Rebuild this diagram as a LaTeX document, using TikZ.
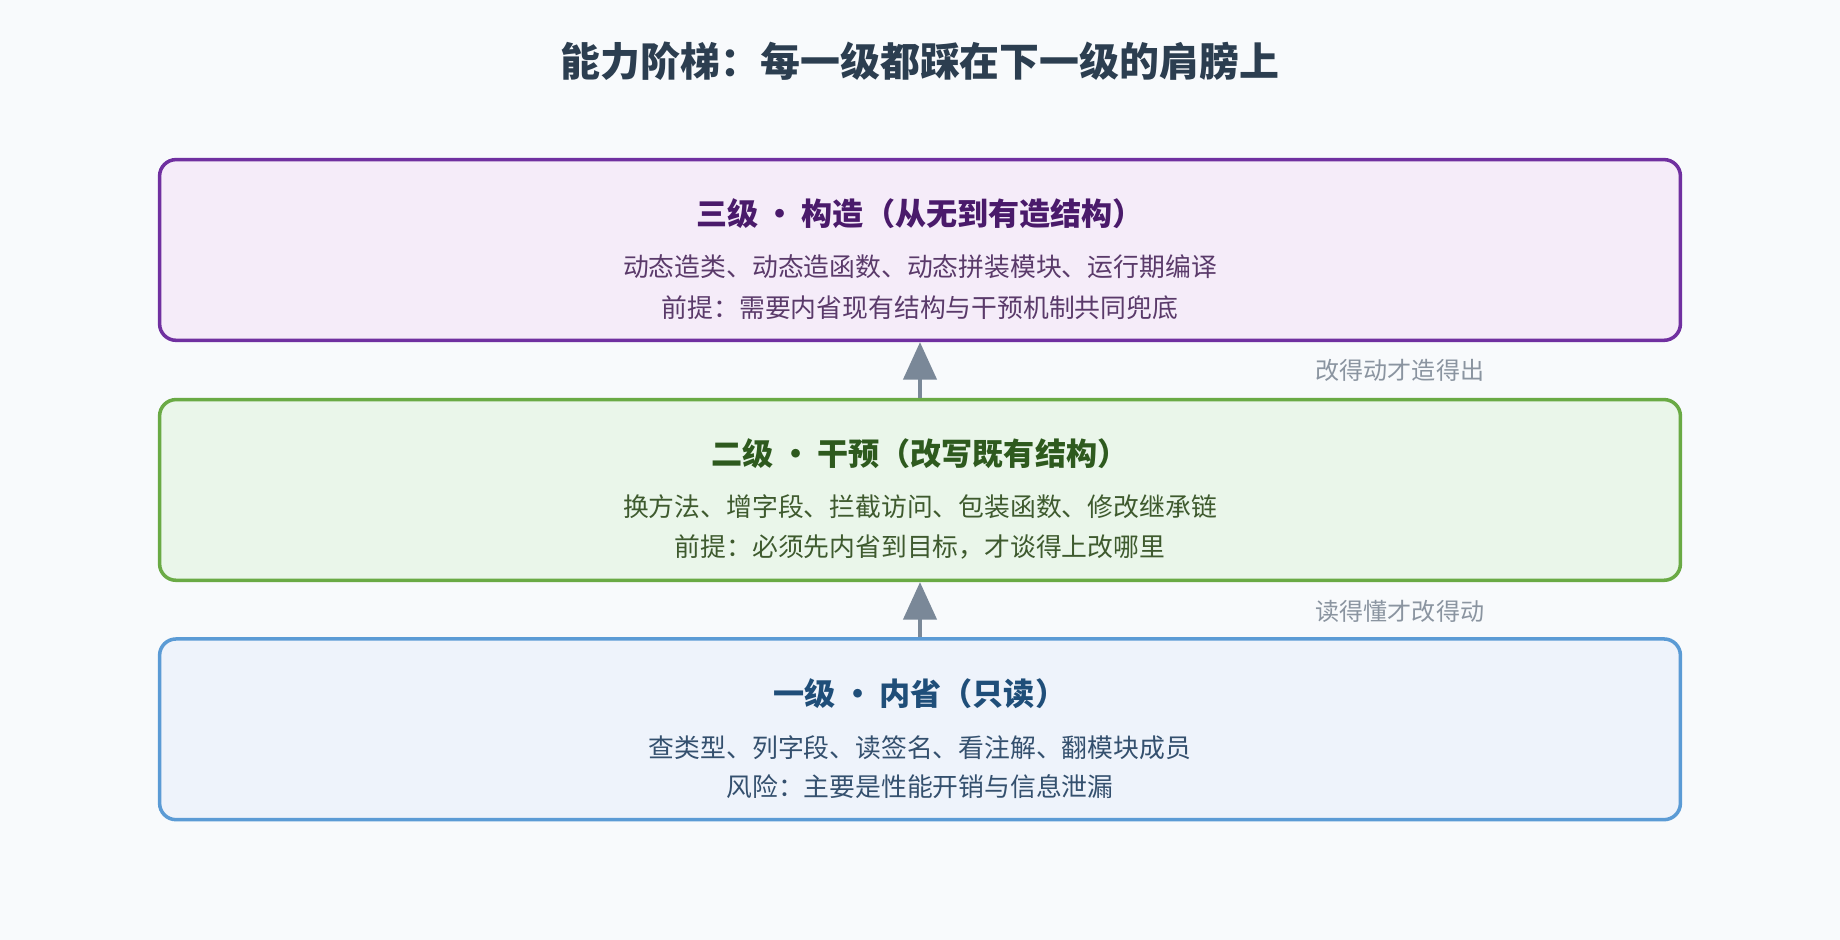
\documentclass[tikz,border=0pt]{standalone}
\usepackage{fontspec}
\setmainfont{Noto Sans CJK SC}
\usetikzlibrary{arrows.meta}
\definecolor{bg}{HTML}{F8FAFC}
\definecolor{pf}{HTML}{F5ECF9}\definecolor{ps}{HTML}{7030A0}\definecolor{pt}{HTML}{4A1A6B}\definecolor{pb}{HTML}{5A3A6A}
\definecolor{gf}{HTML}{EAF6EA}\definecolor{gs}{HTML}{6AAA45}\definecolor{gt}{HTML}{2E5A1E}\definecolor{gb}{HTML}{3E5A2E}
\definecolor{bf}{HTML}{EEF3FB}\definecolor{bs}{HTML}{5B9BD5}\definecolor{bt}{HTML}{1F4E79}\definecolor{bb}{HTML}{34506E}
\definecolor{ar}{HTML}{7A8898}\definecolor{lab}{HTML}{8A94A0}\definecolor{tt}{HTML}{2C3E50}
\newcommand{\dotsep}{\hspace{0.2em}•\hspace{0.2em}}
\begin{document}
\begin{tikzpicture}[x=1pt,y=-1pt,
 box/.style={draw,line width=3pt,rounded corners=14pt,minimum width=1296pt,minimum height=154pt},
 ttl/.style={font=\fontsize{26.5}{32}\selectfont\bfseries},
 body/.style={font=\fontsize{22}{26}\selectfont},
 arr/.style={draw=ar,line width=4pt,-{Triangle[length=32pt,width=28pt]}},
 lbl/.style={text=lab,font=\fontsize{20.5}{24}\selectfont}]
\fill[bg] (0,0) rectangle (1568,801);
\useasboundingbox (0,0) rectangle (1568,801);
\node[text=tt,font=\fontsize{34}{40}\selectfont\bfseries] (title) at (784,52) {能力阶梯：每一级都踩在下一级的肩膀上};
\node[box,draw=ps,fill=pf] (b3) at (784,213) {};
\node[box,draw=gs,fill=gf] (b2) at (784,417.5) {};
\node[box,draw=bs,fill=bf] (b1) at (784,621.5) {};
\node[ttl,text=pt] (t3) at (784,182) {三级\dotsep 构造（从无到有造结构）};
\node[body,text=pb] (l3a) at (784,227) {动态造类、动态造函数、动态拼装模块、运行期编译};
\node[body,text=pb] (l3b) at (784,262) {前提：需要内省现有结构与干预机制共同兜底};
\node[ttl,text=gt] (t2) at (784,387) {二级\dotsep 干预（改写既有结构）};
\node[body,text=gb] (l2a) at (784,432) {换方法、增字段、拦截访问、包装函数、修改继承链};
\node[body,text=gb] (l2b) at (784,466) {前提：必须先内省到目标，才谈得上改哪里};
\node[ttl,text=bt] (t1) at (784,591) {一级\dotsep 内省（只读）};
\node[body,text=bb] (l1a) at (784,637) {查类型、列字段、读签名、看注解、翻模块成员};
\node[body,text=bb] (l1b) at (784,670) {风险：主要是性能开销与信息泄漏};
\draw[arr] (b2.north) -- (b3.south);
\draw[arr] (b1.north) -- (b2.south);
\node[lbl] (a2) at (1193,316) {改得动才造得出};
\node[lbl] (a1) at (1193,521) {读得懂才改得动};
\end{tikzpicture}
\end{document}
